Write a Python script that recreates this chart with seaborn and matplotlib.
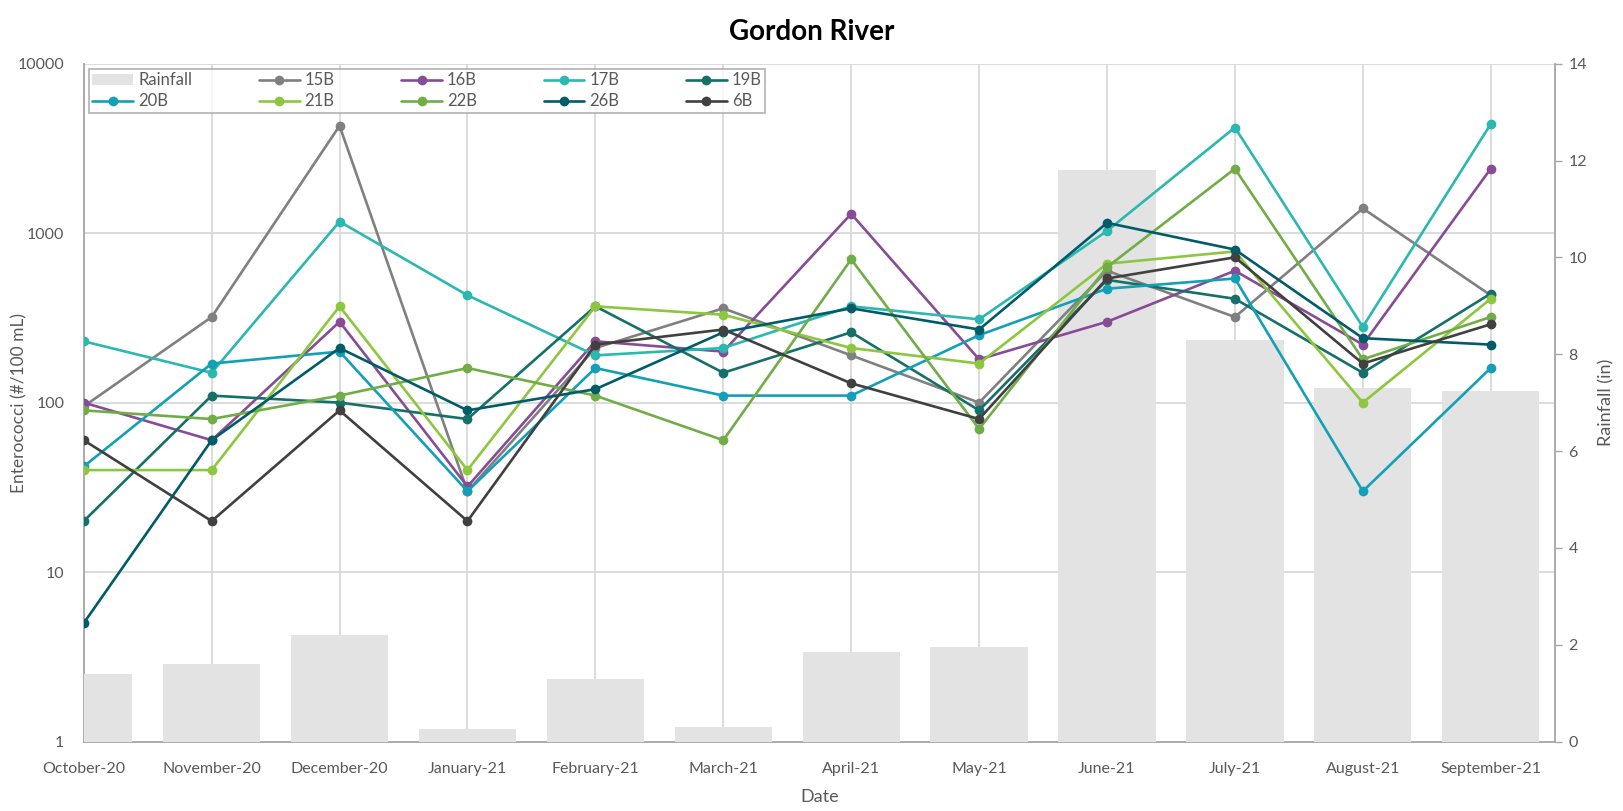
import numpy as np
import pandas as pd
import matplotlib
matplotlib.use("Agg")
import matplotlib.pyplot as plt
import seaborn as sns
from matplotlib.lines import Line2D
from matplotlib.patches import Patch
from matplotlib.ticker import NullLocator

# ---- data ----
months = ['October-20', 'November-20', 'December-20', 'January-21', 'February-21',
          'March-21', 'April-21', 'May-21', 'June-21', 'July-21', 'August-21',
          'September-21']
rainfall = [1.4, 1.6, 2.2, 0.25, 1.3, 0.3, 1.85, 1.95, 11.8, 8.3, 7.3, 7.25]

sites = ['15B', '16B', '17B', '19B', '20B', '21B', '22B', '26B', '6B']
s15B = [95, 320, 4300, 30, 210, 360, 190, 100, 600, 320, 1400, 430]
s16B = [100, 60, 300, 32, 230, 200, 1300, 180, 300, 600, 220, 2400]
s17B = [230, 150, 1170, 430, 190, 210, 370, 310, 1030, 4200, 280, 4400]
s19B = [20, 110, 100, 80, 370, 150, 260, 90, 530, 410, 150, 440]
s20B = [42, 170, 200, 30, 160, 110, 110, 250, 470, 540, 30, 160]
s21B = [40, 40, 370, 40, 370, 330, 210, 170, 660, 780, 100, 410]
s22B = [90, 80, 110, 160, 110, 60, 700, 70, 630, 2400, 180, 320]
s26B = [5, 60, 210, 90, 120, 260, 360, 270, 1150, 800, 240, 220]
s6B = [60, 20, 90, 20, 220, 270, 130, 80, 540, 720, 170, 290]
series = [s15B, s16B, s17B, s19B, s20B, s21B, s22B, s26B, s6B]

colors = ['#808080', '#874C95', '#2AB8B0', '#157069', '#13A0B6',
          '#8DC63F', '#70AD47', '#005C69', '#404040']
palette = dict(zip(sites, colors))
BAR_COLOR = '#E3E3E3'
GRID_COLOR = '#D9D9D9'
AXIS_COLOR = '#A6A6A6'
TEXT_COLOR = '#595959'
FONT = 'Lato'

rows = []
for site, vals in zip(sites, series):
    for i, v in enumerate(vals):
        rows.append({'site': site, 'idx': i, 'value': v})
df = pd.DataFrame(rows)
rain_df = pd.DataFrame({'month': months, 'rain': rainfall})

sns.set_theme(style='white')
plt.rcParams['font.family'] = [FONT, 'DejaVu Sans']

fig = plt.figure(figsize=(16.23, 8.11), dpi=100)
ax = fig.add_axes([0.0516, 0.0856, 0.9063, 0.8359])
ax_bar = ax.twinx()    # rainfall bars, above the grid
ax_line = ax.twinx()   # site lines, above the bars

# bars (right axis)
sns.barplot(data=rain_df, x='month', y='rain', order=months, color=BAR_COLOR,
            saturation=1, width=0.76, linewidth=0, ax=ax_bar)

# lines (log, left axis)
sns.lineplot(data=df, x='idx', y='value', hue='site', hue_order=sites,
             palette=palette, marker='o', markersize=7, markeredgewidth=0,
             linewidth=1.9, estimator=None, legend=False, ax=ax_line)

for a in (ax, ax_line):
    a.set_yscale('log')
    a.set_ylim(1, 10000)
    a.yaxis.set_minor_locator(NullLocator())
for a in (ax, ax_bar, ax_line):
    a.set_xlim(0, 11.5)

ax_bar.set_ylim(0, 14)
ax_bar.set_yticks(np.arange(0, 15, 2))
ax_bar.tick_params(axis='y', labelsize=11.5, labelcolor=TEXT_COLOR, length=5,
                   width=1, color=AXIS_COLOR, pad=5, right=True, left=False)
ax_bar.set_ylabel('Rainfall (in)', fontsize=13, color=TEXT_COLOR, labelpad=8)
ax_bar.set_xlabel('')
ax_bar.tick_params(axis='x', bottom=False, labelbottom=False)

ax_line.set_ylabel('')
ax_line.set_xlabel('')
ax_line.set_yticks([])
ax_line.tick_params(axis='both', left=False, right=False, bottom=False,
                    labelbottom=False, labelright=False)

ax.set_yticks([1, 10, 100, 1000, 10000])
ax.set_yticklabels(['1', '10', '100', '1000', '10000'])
ax.set_xticks(range(len(months)))
ax.set_xticklabels(months)
ax.tick_params(axis='both', labelsize=11.5, labelcolor=TEXT_COLOR, length=0)
ax.tick_params(axis='y', pad=14)
ax.tick_params(axis='x', pad=15)
ax.grid(True, color=GRID_COLOR, linewidth=1.3)
ax.set_axisbelow(True)
ax.set_ylabel('Enterococci (#/100 mL)', fontsize=12.5, color=TEXT_COLOR)
ax.yaxis.set_label_coords(-0.0385, 0.5)
ax.set_xlabel('Date', fontsize=13, color=TEXT_COLOR, labelpad=9)

for a in (ax, ax_bar, ax_line):
    for side in ('top', 'right', 'left', 'bottom'):
        a.spines[side].set_visible(False)
for side in ('left', 'bottom'):
    ax.spines[side].set_visible(True)
    ax.spines[side].set_color(AXIS_COLOR)
    ax.spines[side].set_linewidth(1.3)
ax_bar.spines['right'].set_visible(True)
ax_bar.spines['right'].set_color(AXIS_COLOR)
ax_bar.spines['right'].set_linewidth(1.3)

fig.suptitle('Gordon River', fontsize=20, fontweight='bold', color='black',
             y=0.977)

# legend, laid out row by row like the original
entries = {'Rainfall': Patch(facecolor=BAR_COLOR, edgecolor='none')}
for site in sites:
    entries[site] = Line2D([0], [0], color=palette[site], marker='o',
                           markersize=7, markeredgewidth=0, linewidth=1.9)
labels = ['Rainfall'] + sites
ncol = 5
order = []
for c in range(ncol):
    for r in range(2):
        k = r * ncol + c
        if k < len(labels):
            order.append(labels[k])
leg = ax_line.legend([entries[l] for l in order], order, ncol=ncol,
                     loc='upper left', bbox_to_anchor=(0.0036, 0.992, 0.4596, 0.0),
                     mode='expand', frameon=True, fancybox=False, fontsize=12,
                     handlelength=2.45, handletextpad=0.3, columnspacing=1.0,
                     labelspacing=0.3, borderpad=0.2, borderaxespad=0)
leg.get_frame().set_edgecolor(AXIS_COLOR)
leg.get_frame().set_linewidth(1.3)
for t in leg.get_texts():
    t.set_color(TEXT_COLOR)

fig.savefig('out.png', dpi=100)
